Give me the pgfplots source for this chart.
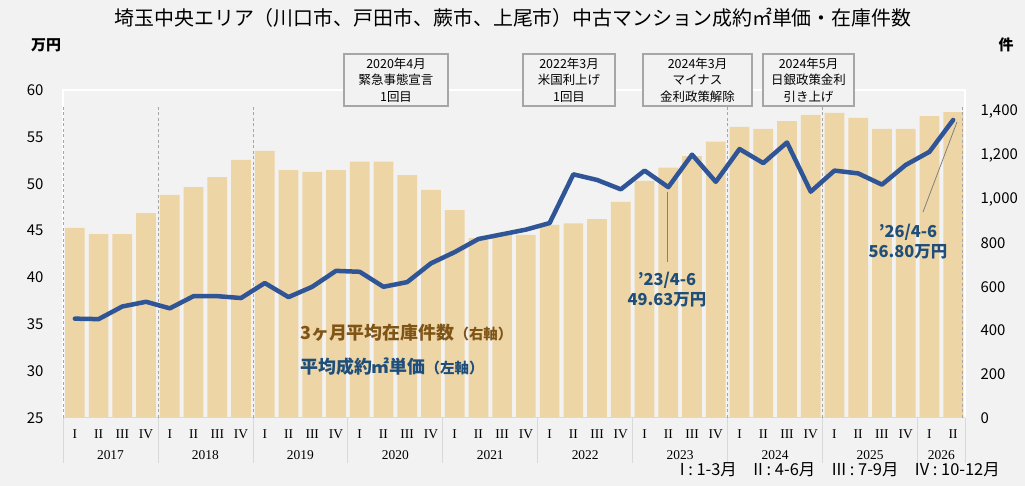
\documentclass[border=0pt]{standalone}
\usepackage{fontspec}
\usepackage{pgfplots}
\usepackage{pgfplotstable}
\pgfplotsset{compat=1.18}
\setmainfont{Noto Sans CJK JP}
\newfontfamily\serifrm{Liberation Serif}
\definecolor{bg}{HTML}{F2F2F2}
\definecolor{bartan}{HTML}{EED5A6}
\definecolor{lineblue}{HTML}{2F5597}
\definecolor{txtblue}{HTML}{1F4E79}
\definecolor{txtbrown}{HTML}{7F5417}
\definecolor{boxgray}{HTML}{A6A6A6}
\definecolor{sepgray}{HTML}{D9D9D9}
\definecolor{dashgray}{HTML}{A6A6A6}

\pgfplotstableread{
x stock price
0 870 35.6
1 841 35.55
2 841 36.9
3 937 37.4
4 1020 36.7
5 1056 38.0
6 1102 38.0
7 1180 37.8
8 1221 39.4
9 1134 37.9
10 1125 39.0
11 1134 40.7
12 1172 40.6
13 1172 39.0
14 1111 39.5
15 1043 41.5
16 951 42.7
17 823 44.1
18 837 44.6
19 837 45.1
20 883 45.8
21 890 51.0
22 910 50.4
23 988 49.4
24 1084 51.4
25 1145 49.63
26 1198 53.1
27 1264 50.2
28 1331 53.7
29 1322 52.2
30 1358 54.4
31 1386 49.15
32 1395 51.4
33 1372 51.1
34 1322 49.9
35 1322 52.0
36 1381 53.4
37 1399 56.8
}\datatable

\begin{document}
\begin{tikzpicture}[x=1bp,y=1bp]
\fill[bg] (0,0) rectangle (1025,486);
% plot area frame
\draw[white, line width=1.5bp] (63,68) -- (63,396) -- (965,396) -- (965,68);

% title and units
\node[font=\fontsize{20}{20}\selectfont] at (513,468) {埼玉中央エリア（川口市、戸田市、蕨市、上尾市）中古マンション成約㎡単価・在庫件数};
\node[font=\fontsize{15}{15}\selectfont\bfseries] at (46,441) {万円};
\node[font=\fontsize{15}{15}\selectfont\bfseries] at (1006,441) {件};

\begin{axis}[
  at={(63bp,68bp)}, anchor=south west, scale only axis,
  width=902bp, height=328bp,
  xmin=-0.5, xmax=37.5, ymin=0, ymax=1500,
  axis y line*=right, axis x line*=bottom,
  axis line style={draw=none},
  ytick={0,200,...,1400},
  yticklabel style={anchor=west, xshift=12bp, font=\fontsize{15}{15}\selectfont},
  /pgf/number format/assume math mode=true,
  /pgf/number format/1000 sep={,},
  xtick={0,...,37},
  xticklabels={I,II,III,IV,I,II,III,IV,I,II,III,IV,I,II,III,IV,I,II,III,IV,I,II,III,IV,I,II,III,IV,I,II,III,IV,I,II,III,IV,I,II},
  xticklabel style={font=\serifrm\fontsize{13.5}{13.5}\selectfont, yshift=-8bp},
  major tick length=0,
  clip=false,
]
\addplot[ybar, bar width=19.7bp, fill=bartan, draw=none] table[x=x, y=stock] {\datatable};
% bottom axis line and year separators
\draw[sepgray, line width=1bp] (axis cs:-0.5,0) -- (axis cs:37.5,0);
\pgfplotsinvokeforeach{-0.5,3.5,7.5,11.5,15.5,19.5,23.5,27.5,31.5,35.5,37.5}{
  \draw[sepgray, line width=0.8bp] (axis cs:#1,0) -- ([yshift=-45bp]axis cs:#1,0);
}
% year labels
\node[font=\serifrm\fontsize{13.5}{13.5}\selectfont] at ([yshift=-37bp]axis cs:1.5,0) {2017};
\node[font=\serifrm\fontsize{13.5}{13.5}\selectfont] at ([yshift=-37bp]axis cs:5.5,0) {2018};
\node[font=\serifrm\fontsize{13.5}{13.5}\selectfont] at ([yshift=-37bp]axis cs:9.5,0) {2019};
\node[font=\serifrm\fontsize{13.5}{13.5}\selectfont] at ([yshift=-37bp]axis cs:13.5,0) {2020};
\node[font=\serifrm\fontsize{13.5}{13.5}\selectfont] at ([yshift=-37bp]axis cs:17.5,0) {2021};
\node[font=\serifrm\fontsize{13.5}{13.5}\selectfont] at ([yshift=-37bp]axis cs:21.5,0) {2022};
\node[font=\serifrm\fontsize{13.5}{13.5}\selectfont] at ([yshift=-37bp]axis cs:25.5,0) {2023};
\node[font=\serifrm\fontsize{13.5}{13.5}\selectfont] at ([yshift=-37bp]axis cs:29.5,0) {2024};
\node[font=\serifrm\fontsize{13.5}{13.5}\selectfont] at ([yshift=-37bp]axis cs:33.5,0) {2025};
\node[font=\serifrm\fontsize{13.5}{13.5}\selectfont] at ([yshift=-37bp]axis cs:36.5,0) {2026};
% dashed event lines
\pgfplotsinvokeforeach{-0.5,3.5,7.5,27.5,31.5,37.4}{
  \draw[dashgray, line width=0.8bp, dash pattern=on 3bp off 2.5bp] (axis cs:#1,0) -- (axis cs:#1,1430);
}
\end{axis}

\begin{axis}[
  at={(63bp,68bp)}, anchor=south west, scale only axis,
  width=902bp, height=328bp,
  xmin=-0.5, xmax=37.5, ymin=25, ymax=60,
  axis y line*=left, axis x line=none,
  axis line style={draw=none},
  ytick={25,30,...,60},
  yticklabel style={anchor=east, xshift=-16bp, font=\fontsize{15}{15}\selectfont},
  /pgf/number format/assume math mode=true,
  major tick length=0,
  clip=false,
]
\addplot[lineblue, line width=4.5bp, line join=round, line cap=round, mark=none] table[x=x, y=price] {\datatable};
\end{axis}

% event boxes
\tikzset{evbox/.style={draw=boxgray, line width=1.5bp, fill=bg, minimum height=52bp, align=center, inner sep=0pt, font=\fontsize{12.5}{16.5}\selectfont}}
\node[evbox, minimum width=104bp] at (396,406) {2020年4月\\緊急事態宣言\\1回目};
\node[evbox, minimum width=92bp] at (569,406) {2022年3月\\米国利上げ\\1回目};
\node[evbox, minimum width=109bp] at (697.5,406) {2024年3月\\マイナス\\金利政策解除};
\node[evbox, minimum width=91bp] at (808.5,406) {2024年5月\\日銀政策金利\\引き上げ};

% callouts
\draw[gray, line width=0.8bp] (667,294) -- (667,224);
\node[align=center, text=txtblue, font=\fontsize{16.5}{20}\selectfont\bfseries] at (667,196) {’23/4-6\\49.63万円};
\draw[gray, line width=0.8bp] (957,364) -- (923,274);
\node[align=center, text=txtblue, font=\fontsize{16.5}{20}\selectfont\bfseries] at (908,244) {’26/4-6\\56.80万円};

% series labels
\node[anchor=west, text=txtbrown, font=\fontsize{18}{18}\selectfont\bfseries, inner sep=0pt] at (300,153) {3ヶ月平均在庫件数{\fontsize{14.5}{14.5}\selectfont（右軸）}};
\node[anchor=west, text=txtblue, font=\fontsize{18}{18}\selectfont\bfseries, inner sep=0pt] at (300,119) {平均成約㎡単価{\fontsize{14.5}{14.5}\selectfont（左軸）}};

% quarter legend
\node[anchor=east, font=\fontsize{16.5}{16.5}\selectfont, inner sep=0pt] at (1000,16) {I : 1-3月\quad II : 4-6月\quad III : 7-9月\quad IV : 10-12月};
\end{tikzpicture}
\end{document}
